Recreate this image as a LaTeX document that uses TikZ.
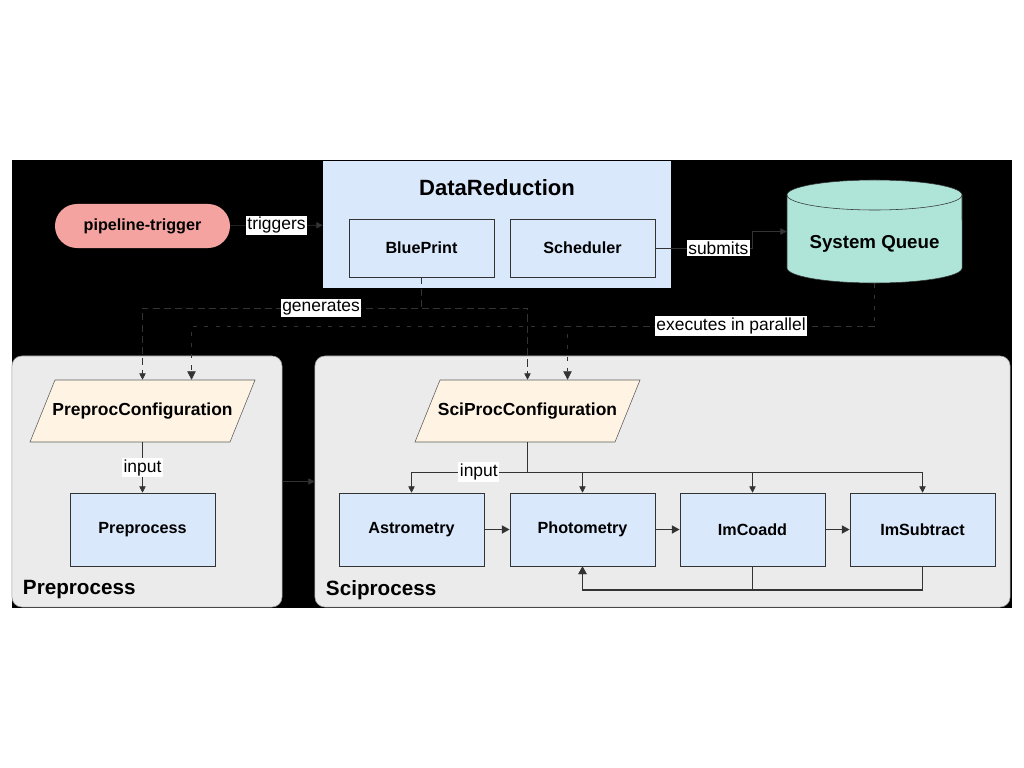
\documentclass[tikz,border=0pt]{standalone}
\usepackage{fontspec}
\setmainfont{Liberation Sans}
\usetikzlibrary{arrows.meta}
\definecolor{ln}{HTML}{333333}
\definecolor{boxblue}{HTML}{DAE8FC}
\definecolor{trigred}{HTML}{F4A3A0}
\definecolor{queuegreen}{HTML}{AEE5D8}
\definecolor{cfgcream}{HTML}{FFF4E3}
\definecolor{grpgray}{HTML}{EBEBEB}
\begin{document}
\begin{tikzpicture}[x = 0.025cm, y = -0.025cm,
  box/.style = {draw = ln, fill = boxblue, minimum width = 3.625cm, minimum height = 1.45cm, font = \bfseries\fontsize{11.5}{13}\selectfont},
  cfg/.style = {minimum width = 5cm, minimum height = 1.55cm, font = \bfseries\fontsize{12.4}{14}\selectfont},
  cfgshape/.style = {draw = ln!80, fill = cfgcream},
  grp/.style = {draw = gray!80, fill = grpgray, rounded corners = 0.25cm},
  grplbl/.style = {anchor = west, font = \bfseries\fontsize{14.7}{17}\selectfont},
  lbl/.style = {fill = white, inner sep = 1pt, font = \fontsize{12.4}{14}\selectfont},
  conn/.style = {draw = ln, -{Triangle[width = 4.5pt, length = 4.5pt]}},
  flow/.style = {draw = ln, line width = 1.4pt, -{Triangle[width = 5.5pt, length = 5.5pt]}},
  gen/.style = {conn, dash pattern = on 5pt off 3pt},
  exe/.style = {draw = ln, dash pattern = on 3pt off 5pt, -{Triangle[width = 6pt, length = 6pt]}}]
\useasboundingbox (0,0) rectangle (1024,768);
\fill[black] (12,160) rectangle (1012,608);
\node (trig) [fill = trigred, rounded corners = 0.55cm, minimum width = 4.375cm, minimum height = 1.1cm, font = \bfseries\fontsize{11.5}{13}\selectfont] at (142.5,226) {pipeline-trigger};
\node (dr) [fill = boxblue, minimum width = 8.7cm, minimum height = 3.175cm] at (497,224.5) {};
\node (drt) [font = \bfseries\fontsize{15.7}{18}\selectfont] at (497,188) {DataReduction};
\node (bp) [box] at (421.5,248) {BluePrint};
\node (sch) [box] at (582.5,248) {Scheduler};
\node (sq) [minimum width = 4.375cm, minimum height = 2.575cm] at (874.5,231.5) {};
\filldraw[draw = ln, fill = queuegreen] (787,195) -- (787,268) arc [start angle = 180, end angle = 360, x radius = 2.1875cm, y radius = 0.375cm] -- (962,195) arc [start angle = 0, end angle = 180, x radius = 2.1875cm, y radius = 0.375cm] -- cycle;
\draw[ln] (787,195) arc [start angle = 180, end angle = 360, x radius = 2.1875cm, y radius = 0.375cm];
\node (sqt) [font = \bfseries\fontsize{13.3}{15}\selectfont] at (874.5,244) {System Queue};
\node (ppgrp) [grp, minimum width = 6.75cm, minimum height = 6.275cm] at (147,481.5) {};
\node (spgrp) [grp, minimum width = 17.375cm, minimum height = 6.275cm] at (662.5,481.5) {};
\node (pplbl) [grplbl] at (18,590) {Preprocess};
\node (splbl) [grplbl] at (321,590) {Sciprocess};
\filldraw[cfgshape] (30,442) -- (230,442) -- (255,380) -- (55,380) -- cycle;
\filldraw[cfgshape] (415,442) -- (615,442) -- (640,380) -- (440,380) -- cycle;
\node (ppc) [cfg] at (142.5,411) {PreprocConfiguration};
\node (spc) [cfg] at (527.5,411) {SciProcConfiguration};
\node (pp) [box, minimum height = 1.825cm] at (142.5,529.5) {Preprocess};
\node (ast) [box, minimum height = 1.825cm] at (411.5,529.5) {Astrometry};
\node (pho) [box, minimum height = 1.825cm] at (582.5,529.5) {Photometry};
\node (imc) [box, minimum height = 1.825cm] at (752.5,529.5) {ImCoadd};
\node (ims) [box, minimum height = 1.825cm] at (922.5,529.5) {ImSubtract};
\coordinate (g) at (421.5,308);
\coordinate (e) at (874.5,326);
\coordinate (i) at (527.5,472);
\draw[conn] (trig) -- node[lbl] {triggers} (dr);
\draw[conn] (sch.east) -- node[lbl, pos = 0.65] {submits} ++(97,0) |- (sq.west);
\draw[gen] (g) -| (spc.north);
\draw[gen] (bp.south) -- (g) -| node[lbl, pos = 0.18] {generates} (ppc.north);
\draw[exe] (e) -| ([xshift = 1cm]spc.north);
\draw[exe] (sq.south) -- (e) -| node[lbl, pos = 0.105] {executes in parallel} ([xshift = 1.225cm]ppc.north);
\draw[conn] (ppc) -- node[lbl] {input} (pp);
\draw[conn] (ppgrp) -- (spgrp);
\draw[conn] (i) -| (pho.north);
\draw[conn] (i) -| (imc.north);
\draw[conn] (i) -| (ims.north);
\draw[conn] (spc.south) -- (i) -| node[lbl, pos = 0.21] {input} (ast.north);
\draw[flow] (ast) -- (pho);
\draw[flow] (pho) -- (imc);
\draw[flow] (imc) -- (ims);
\draw[flow] (imc.south) -- ++(0,24) -| (pho.south);
\draw[flow] (ims.south) -- ++(0,24) -| (pho.south);
\end{tikzpicture}
\end{document}
